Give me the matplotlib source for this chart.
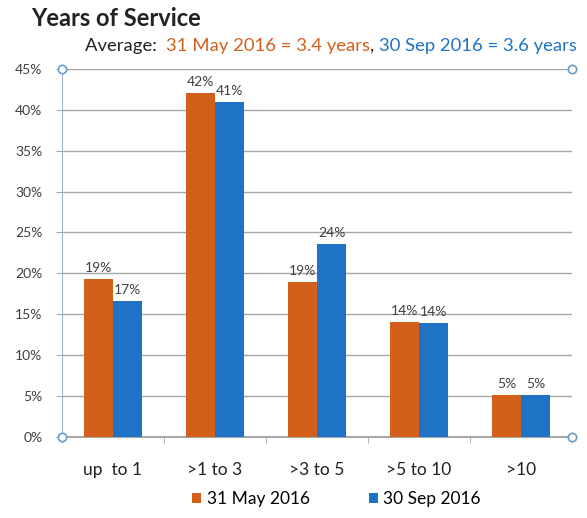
import numpy as np
import matplotlib.pyplot as plt

plt.rcParams['font.family'] = ['Lato', 'DejaVu Sans']

categories = ["up  to 1", ">1 to 3", ">3 to 5", ">5 to 10", ">10"]
may_2016 = [19.3, 42.1, 19.0, 14.1, 5.1]
sep_2016 = [16.6, 41.0, 23.6, 13.9, 5.1]
may_labels = ["19%", "42%", "19%", "14%", "5%"]
sep_labels = ["17%", "41%", "24%", "14%", "5%"]
series_names = ["31 May 2016", "30 Sep 2016"]
yticks = [0, 5, 10, 15, 20, 25, 30, 35, 40, 45]

orange = "#D2601A"
blue = "#1F73C6"
grid_col = "#A6A6A6"

fig = plt.figure(figsize=(5.87, 5.18), dpi=100)
ax = fig.add_axes([0.1056, 0.1564, 0.8688, 0.7106])

x = np.arange(len(categories))
w = 0.285
b1 = ax.bar(x - w / 2, may_2016, w, color=orange, label=series_names[0], zorder=3)
b2 = ax.bar(x + w / 2, sep_2016, w, color=blue, label=series_names[1], zorder=3)

for bars, labels in ((b1, may_labels), (b2, sep_labels)):
    for rect, lab in zip(bars, labels):
        ax.text(rect.get_x() + rect.get_width() / 2, rect.get_height() + 0.6, lab,
                ha="center", va="bottom", fontsize=10, color="#404040")

ax.set_xlim(-0.5, len(categories) - 0.5)
ax.set_ylim(0, 45)
ax.set_yticks(yticks)
ax.set_yticklabels([f"{t}%" for t in yticks], fontsize=10, color="#404040")
ax.yaxis.grid(True, color=grid_col, linewidth=1.0, zorder=0)
ax.set_axisbelow(True)

ax.set_xticks(x)
ax.set_xticklabels(categories, fontsize=12.5, color="#222222")
ax.tick_params(axis="x", length=0, pad=18)
ax.set_xticks(np.arange(len(categories) + 1) - 0.5, minor=True)
ax.tick_params(axis="x", which="minor", length=4, color=grid_col)
ax.tick_params(axis="y", length=4, color=grid_col, pad=10)

for side in ("top", "right"):
    ax.spines[side].set_visible(False)
ax.spines["left"].set_color("#9DB5CF")
ax.spines["bottom"].set_color(grid_col)
ax.spines["bottom"].set_linewidth(1.5)

# selection handles at the corners of the plot area
ax.plot([-0.5, 4.5, -0.5, 4.5], [0, 0, 45, 45], "o", ms=6, mfc="white",
        mec="#6A9BC8", mew=1.2, clip_on=False, zorder=5)

fig.text(0.053, 0.965, "Years of Service", fontsize=17, fontweight="bold",
         color="#222222", va="center")

# multi-coloured subtitle
parts = [("Average:  ", "#222222"), ("31 May 2016 = 3.4 years", orange),
         (", ", "#222222"), ("30 Sep 2016 = 3.6 years", blue)]
fig.canvas.draw()
r = fig.canvas.get_renderer()
xpos = 0.145
for txt, col in parts:
    t = fig.text(xpos, 0.911, txt, fontsize=13.3, color=col, va="center")
    bb = t.get_window_extent(renderer=r)
    xpos += bb.width / fig.bbox.width

leg = ax.legend(loc="upper center", bbox_to_anchor=(0.538, -0.105), ncol=2,
                frameon=False, fontsize=12.5, handlelength=0.55, handleheight=0.55,
                handletextpad=0.3, columnspacing=3.4)

fig.savefig("out.png", dpi=100)
